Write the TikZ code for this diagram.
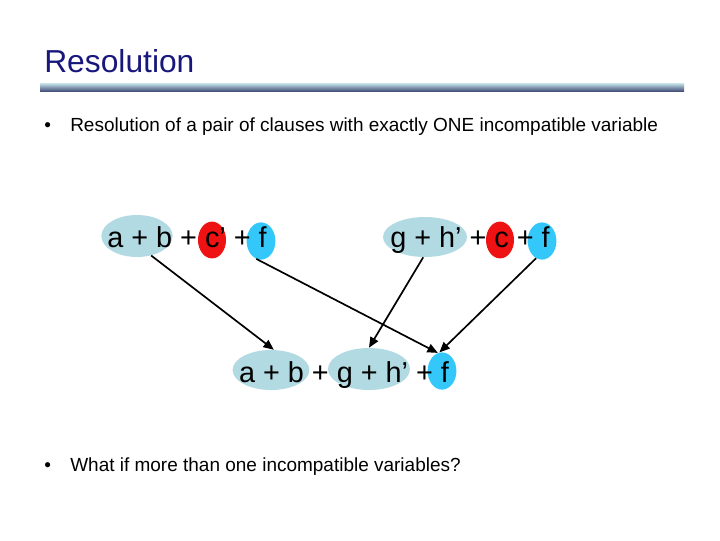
\documentclass[tikz,border=0pt]{standalone}
\usepackage{fontspec}
\setmainfont{Liberation Sans}
\usetikzlibrary{arrows.meta, shapes.geometric}
\definecolor{titleblue}{RGB}{24,24,124}
\definecolor{termblue}{RGB}{178,218,226}
\definecolor{negred}{RGB}{238,18,18}
\definecolor{posblue}{RGB}{52,200,250}
\definecolor{barlight}{RGB}{200,230,236}
\definecolor{barmid}{RGB}{140,160,190}
\definecolor{bardark}{RGB}{70,82,122}

\begin{document}
\begin{tikzpicture}[
  x=0.025cm, y=-0.025cm,
  lit/.style={ellipse, inner sep=0pt},
  term/.style={lit, fill=termblue},
  neglit/.style={lit, fill=negred, minimum width=0.7cm, minimum height=0.92cm},
  poslit/.style={lit, fill=posblue, minimum width=0.72cm, minimum height=0.93cm},
  clause/.style={anchor=base, inner sep=0pt, font=\fontsize{20.5}{24}\selectfont},
  bul/.style={anchor=base west, inner sep=0pt, font=\fontsize{13.5}{16}\selectfont},
  arr/.style={-{Triangle[length=2.6mm, width=2.2mm]}, line width=1.2pt}
]
\useasboundingbox (0,0) rectangle (720,540);
\node (title) [anchor=base west, text=titleblue, inner sep=0pt, font=\fontsize{22.6}{26}\selectfont] at (44,72) {Resolution};
\shade[top color=barlight, middle color=barmid, bottom color=bardark] (40,83) rectangle (684,91);

\node (b1) [bul] at (44,131) {•};
\node (t1) [bul] at (70,131) {Resolution of a pair of clauses with exactly ONE incompatible variable};

% first clause
\node (ab1) [term, minimum width=1.78cm, minimum height=1.05cm] at (137,236) {};
\node (c1) [neglit] at (212,240) {};
\node (f1) [poslit] at (261,241) {};
\node (cl1) [clause] at (187,247) {a + b + c’ + f};

% second clause
\node (gh2) [term, minimum width=2.1cm, minimum height=1cm] at (425,237) {};
\node (c2) [neglit] at (500,240) {};
\node (f2) [poslit] at (542,241) {};
\node (cl2) [clause] at (470,247) {g + h’ + c + f};

% resolvent
\node (ab3) [term, minimum width=1.92cm, minimum height=1cm] at (271,370) {};
\node (gh3) [term, minimum width=2.05cm, minimum height=1.05cm] at (369,369) {};
\node (f3) [poslit] at (442,371) {};
\node (cl3) [clause] at (344,382) {a + b + g + h’ + f};

\draw[arr] (ab1.-54)--(ab3.82); \draw[arr] (f1.-105)--(f3.103);
\draw[arr] (gh2.-95)--(gh3.90); \draw[arr] (f2.-109)--(f3.98);

\node (b2) [bul] at (44,471) {•};
\node (t2) [bul] at (70,471) {What if more than one incompatible variables?};
\end{tikzpicture}
\end{document}
